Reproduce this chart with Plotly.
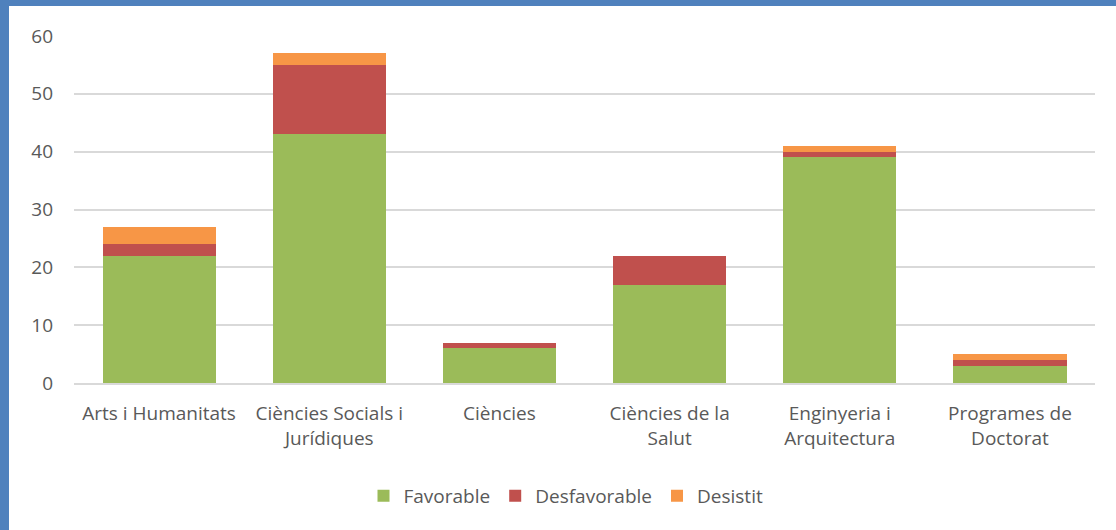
import plotly.graph_objects as go

categories = [
    "Arts i Humanitats",
    "Ciències Socials i<br>Jurídiques",
    "Ciències",
    "Ciències de la<br>Salut",
    "Enginyeria i<br>Arquitectura",
    "Programes de<br>Doctorat",
]
favorable = [22, 43, 6, 17, 39, 3]
desfavorable = [2, 12, 1, 5, 1, 1]
desistit = [3, 2, 0, 0, 1, 1]

GREEN = "#9BBB59"
RED = "#C0504D"
ORANGE = "#F79646"
TEXT = "#595959"
GRID = "#D9D9D9"
FRAME = "#4F81BD"
FONT = "'Open Sans', sans-serif"

W, H = 1116, 530
L, R, T, B = 74, 21, 36, 147
PW, PH = W - L - R, H - T - B

fig = go.Figure()
for name, vals, col in [
    ("Favorable", favorable, GREEN),
    ("Desfavorable", desfavorable, RED),
    ("Desistit", desistit, ORANGE),
]:
    fig.add_trace(go.Bar(x=categories, y=vals, name=name,
                         marker=dict(color=col, line=dict(width=0)),
                         hoverinfo="x+y+name"))

fig.update_layout(
    barmode="stack",
    bargap=0.335,
    width=W,
    height=H,
    margin=dict(l=L, r=R, t=T, b=B, autoexpand=False),
    paper_bgcolor="white",
    plot_bgcolor="white",
    font=dict(family=FONT, color=TEXT, size=19),
    xaxis=dict(showgrid=False, showline=True, linecolor=GRID, linewidth=2,
               ticks="", automargin=False, ticklabelstandoff=12,
               tickfont=dict(size=19, color=TEXT)),
    yaxis=dict(range=[0, 60], dtick=10, showgrid=True, gridcolor=GRID, gridwidth=2,
               zeroline=False, showline=False, ticks="", ticklabelstandoff=20,
               automargin=False, tickfont=dict(size=19, color=TEXT)),
    legend=dict(orientation="h", xref="container", yref="container",
                x=566 / W, xanchor="center", y=(H - 496) / H, yanchor="middle",
                font=dict(size=19, color=TEXT), itemwidth=30, traceorder="normal"),
    shapes=[
        dict(type="rect", xref="paper", yref="paper", x0=-L / PW, x1=-(L - 9) / PW,
             y0=-B / PH, y1=1 + T / PH, fillcolor=FRAME, line=dict(width=0), layer="above"),
        dict(type="rect", xref="paper", yref="paper", x0=-L / PW, x1=1 + R / PW,
             y0=1 + (T - 6) / PH, y1=1 + T / PH, fillcolor=FRAME, line=dict(width=0), layer="above"),
    ],
)

fig.write_html("out.html", config={"displayModeBar": False},
               post_script="document.body.style.margin='0';")
